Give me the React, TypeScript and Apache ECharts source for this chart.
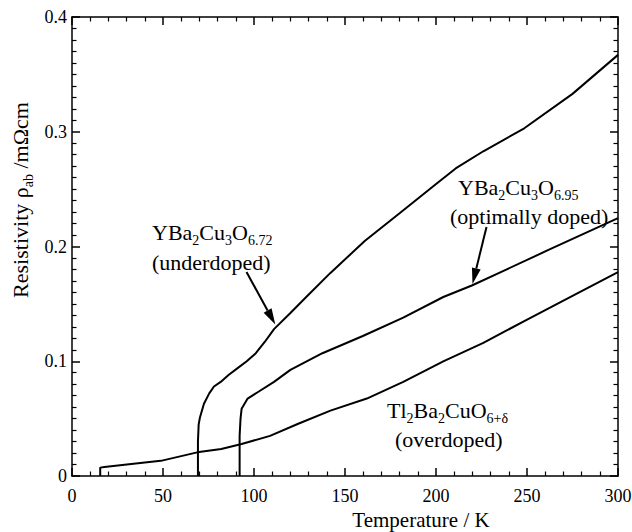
import React, { useEffect, useRef } from "react";
import * as echarts from "echarts";

// ---- data ----
const tempUnderdoped = [69.2, 69.2, 69.6, 70.3, 72.5, 75.4, 78, 81.7, 86, 91, 96, 101, 106, 111, 120, 128.7, 142, 161, 180, 199.7, 210.8, 226, 248.5, 275, 300];
const rhoUnderdoped = [0, 0.03, 0.045, 0.051, 0.063, 0.072, 0.078, 0.082, 0.088, 0.094, 0.1, 0.107, 0.117, 0.128, 0.142, 0.156, 0.177, 0.205, 0.229, 0.254, 0.268, 0.283, 0.303, 0.333, 0.367];

const tempOptimal = [92.1, 92.1, 92.6, 93.2, 96.5, 102, 111, 120, 137.6, 159.8, 182, 204, 219.7, 237.4, 261.8, 300];
const rhoOptimal = [0, 0.035, 0.05, 0.0587, 0.0675, 0.073, 0.082, 0.0925, 0.107, 0.122, 0.138, 0.156, 0.166, 0.179, 0.197, 0.2247];

const tempOverdoped = [15.5, 15.5, 17.8, 40, 48.8, 68.8, 82, 93.2, 108.8, 124.3, 142, 162, 182, 204, 226, 248.5, 275, 300];
const rhoOverdoped = [0, 0.0073, 0.0079, 0.0117, 0.0132, 0.0206, 0.0235, 0.0279, 0.035, 0.0455, 0.057, 0.0675, 0.082, 0.0999, 0.116, 0.135, 0.157, 0.1777];

const xRange = [0, 300];
const xStep = 50;
const yRange = [0, 0.4];
const yStep = 0.1;

const xTitle = "Temperature / K";

const FONT = "Liberation Serif";

const zip = (xs: number[], ys: number[]) => xs.map((x, i) => [x, ys[i]]);

const RICH = {
  n: { fontFamily: FONT, fontSize: 22, lineHeight: 30, fill: "#000", color: "#000" },
  s: { fontFamily: FONT, fontSize: 14, lineHeight: 30, verticalAlign: "bottom", fill: "#000", color: "#000" },
};

function label(x: number, y: number, text: string, rich = true) {
  return {
    type: "text",
    x,
    y,
    silent: true,
    style: {
      text,
      rich: rich ? RICH : undefined,
      fontFamily: FONT,
      fontSize: 22,
      lineHeight: rich ? undefined : 20,
      fill: "#000",
      align: "left",
      verticalAlign: "middle",
    },
  };
}

function arrow(x1: number, y1: number, x2: number, y2: number) {
  const dx = x2 - x1;
  const dy = y2 - y1;
  const len = Math.sqrt(dx * dx + dy * dy);
  const ux = dx / len;
  const uy = dy / len;
  const headLen = 16;
  const halfW = 4.5;
  const bx = x2 - headLen * ux;
  const by = y2 - headLen * uy;
  const nx = -uy;
  const ny = ux;
  return [
    {
      type: "line",
      silent: true,
      shape: { x1, y1, x2: bx, y2: by },
      style: { stroke: "#000", lineWidth: 2 },
    },
    {
      type: "polygon",
      silent: true,
      shape: {
        points: [
          [x2, y2],
          [bx + halfW * nx, by + halfW * ny],
          [bx - halfW * nx, by - halfW * ny],
        ],
      },
      style: { fill: "#000" },
    },
  ];
}

export default function App() {
  const ref = useRef<HTMLDivElement>(null);

  useEffect(() => {
    if (!ref.current) return;
    const chart = echarts.init(ref.current, undefined, { renderer: "svg" });

    const axisCommon = {
      type: "value",
      axisLine: { show: true, onZero: false, lineStyle: { color: "#000", width: 1.5 } },
      axisTick: { show: true, inside: true, length: 8, lineStyle: { color: "#000", width: 1.5 } },
      minorTick: { show: true, length: 4.5, lineStyle: { color: "#000", width: 1.2 } },
      splitLine: { show: false },
      minorSplitLine: { show: false },
    };

    const tickLabel = { show: true, color: "#000", fontFamily: FONT, fontSize: 18 };

    const option: any = {
      animation: false,
      backgroundColor: "#fff",
      textStyle: { fontFamily: FONT },
      grid: { left: 72, right: 14, top: 17, bottom: 56, containLabel: false, outerBoundsMode: "none" },
      xAxis: [
        {
          ...axisCommon,
          position: "bottom",
          min: xRange[0],
          max: xRange[1],
          interval: xStep,
          minorTick: { ...axisCommon.minorTick, splitNumber: 5 },
          axisLabel: { ...tickLabel, margin: 11 },
        },
        {
          ...axisCommon,
          position: "top",
          min: xRange[0],
          max: xRange[1],
          interval: xStep,
          minorTick: { ...axisCommon.minorTick, splitNumber: 5 },
          axisLabel: { show: false },
        },
      ],
      yAxis: [
        {
          ...axisCommon,
          position: "left",
          min: yRange[0],
          max: yRange[1],
          interval: yStep,
          minorTick: { ...axisCommon.minorTick, splitNumber: 10 },
          axisLabel: { ...tickLabel, margin: 5 },
        },
        {
          ...axisCommon,
          position: "right",
          min: yRange[0],
          max: yRange[1],
          interval: yStep,
          minorTick: { ...axisCommon.minorTick, splitNumber: 10 },
          axisLabel: { show: false },
        },
      ],
      series: [
        {
          name: "YBa2Cu3O6.72",
          type: "line",
          data: zip(tempUnderdoped, rhoUnderdoped),
          showSymbol: false,
          symbol: "none",
          lineStyle: { color: "#000", width: 2 },
          silent: true,
        },
        {
          name: "YBa2Cu3O6.95",
          type: "line",
          data: zip(tempOptimal, rhoOptimal),
          showSymbol: false,
          symbol: "none",
          lineStyle: { color: "#000", width: 2 },
          silent: true,
        },
        {
          name: "Tl2Ba2CuO6+d",
          type: "line",
          data: zip(tempOverdoped, rhoOverdoped),
          showSymbol: false,
          symbol: "none",
          lineStyle: { color: "#000", width: 2 },
          silent: true,
        },
      ],
      graphic: [
        {
          type: "text",
          x: 421,
          y: 520,
          silent: true,
          style: { text: xTitle, fontFamily: FONT, fontSize: 21, fill: "#000", align: "center", verticalAlign: "middle" },
        },
        {
          type: "text",
          x: 20,
          y: 200,
          rotation: Math.PI / 2,
          silent: true,
          style: {
            text: "{n|Resistivity ρ}{s|ab}{n| /mΩcm}",
            rich: RICH,
            fontFamily: FONT,
            fontSize: 22,
            fill: "#000",
            align: "center",
            verticalAlign: "middle",
          },
        },
        label(152, 232, "{n|YBa}{s|2}{n|Cu}{s|3}{n|O}{s|6.72}"),
        label(152, 262, "(underdoped)", false),
        label(458, 187, "{n|YBa}{s|2}{n|Cu}{s|3}{n|O}{s|6.95}"),
        label(450, 216, "(optimally doped)", false),
        label(387, 410, "{n|Tl}{s|2}{n|Ba}{s|2}{n|CuO}{s|6+δ}"),
        label(395, 439, "(overdoped)", false),
        ...arrow(246.5, 272, 275.3, 324.5),
        ...arrow(486.5, 227, 472.5, 284),
      ],
    };

    chart.setOption(option);
    return () => chart.dispose();
  }, []);

  return (
    <div
      ref={ref}
      style={{ position: "fixed", left: 0, top: 0, width: 632, height: 532, background: "#fff" }}
    />
  );
}
